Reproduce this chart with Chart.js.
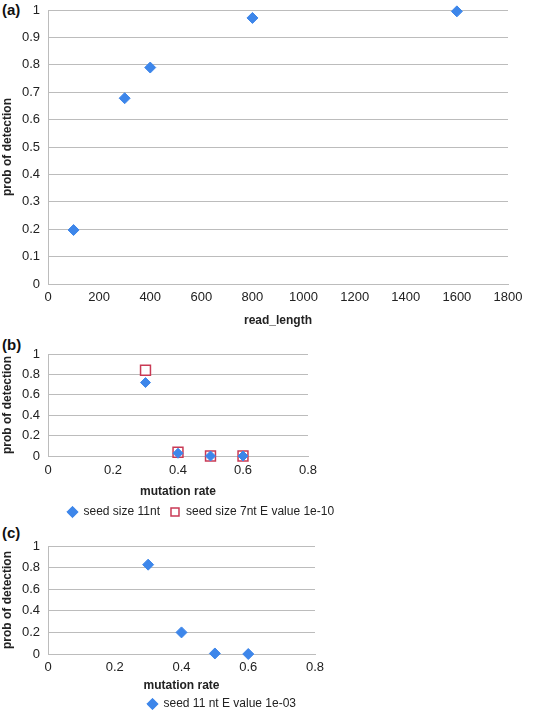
<!DOCTYPE html>
<html>
<head>
<meta charset="utf-8">
<script src="https://cdn.jsdelivr.net/npm/chart.js@4.4.1/dist/chart.umd.min.js"></script>
<style>
  body { margin: 0; background: #fff; overflow: hidden; width: 543px; height: 710px; position: relative; }
  canvas { position: absolute; left: 0; }
  .tag { position: absolute; left: 2px; font: bold 15px "Liberation Sans", Arial, sans-serif; color: #111; }
</style>
</head>
<body>
<div class="tag" style="top:1px">(a)</div>
<div class="tag" style="top:336px">(b)</div>
<div class="tag" style="top:524px">(c)</div>
<canvas id="chart-a" width="543" height="330" style="top:0px"></canvas>
<canvas id="chart-b" width="543" height="203" style="top:330px"></canvas>
<canvas id="chart-c" width="543" height="197" style="top:530px"></canvas>
<script>
// panel (a)
var readLength = [100, 300, 400, 800, 1600];
var probA = [0.197, 0.678, 0.79, 0.971, 0.995];

// panel (b)
var mutRateB = [0.3, 0.4, 0.5, 0.6];
var seed11B = [0.72, 0.027, 0, 0];
var seed7B = [0.84, 0.037, 0, 0];

// panel (c)
var mutRateC = [0.3, 0.4, 0.5, 0.6];
var seed11C = [0.827, 0.2, 0.005, 0];

var blue = '#3d86ea', red = '#c93a55', grid = '#bcbcbc';

Chart.defaults.font.family = '"Liberation Sans", Arial, sans-serif';
Chart.defaults.font.size = 12;
Chart.defaults.color = '#222';

function pts(xs, ys) {
    return xs.map(function (x, i) { return { x: x, y: ys[i] }; });
}

function plain(v) {
    return String(Math.round(v * 100) / 100);
}

// move the legend box to where the original figure has it
const legendPlace = {
    id: 'legendPlace',
    beforeDraw(chart, args, opts) {
        const lg = chart.legend;
        if (!lg || opts.left == null) return;
        const h = lg.bottom - lg.top;
        lg.left = opts.left;
        lg.right = chart.width;
        lg.top = opts.top;
        lg.bottom = opts.top + h;
    }
};

function diamonds(label, data, r) {
    return {
        label: label, data: data, showLine: false, clip: false,
        pointStyle: 'rectRot', pointRadius: r, pointHoverRadius: r,
        backgroundColor: blue, borderColor: blue, borderWidth: 1,
        pointBackgroundColor: blue, pointBorderColor: blue
    };
}

function squares(label, data, r) {
    return {
        label: label, data: data, showLine: false, clip: false,
        pointStyle: 'rect', pointRadius: r, pointHoverRadius: r,
        backgroundColor: '#fff', borderColor: red, borderWidth: 1.5,
        pointBackgroundColor: '#fff', pointBorderColor: red, pointBorderWidth: 1.5
    };
}

function makeOptions(p) {
    return {
        responsive: false,
        animation: false,
        layout: { padding: { top: p.top, right: p.right, left: 0, bottom: 0 } },
        plugins: {
            tooltip: { enabled: false },
            legend: {
                display: p.legend,
                position: 'bottom',
                align: 'start',
                labels: { usePointStyle: true, boxWidth: 10, boxHeight: 8, padding: 10, color: '#222', font: { size: 12 } }
            },
            legendPlace: p.legend ? { left: p.legendLeft, top: p.legendTop } : {}
        },
        scales: {
            x: {
                type: 'linear', min: 0, max: p.xMax,
                ticks: { stepSize: p.xStep, padding: p.xPad, color: '#222', font: { size: 13 }, callback: plain },
                grid: { display: false, drawTicks: false },
                border: { display: true, color: grid, width: 1 },
                title: { display: true, text: p.xTitle, font: { weight: 'bold', size: 12 }, color: '#222', padding: { top: 0, bottom: 2 } },
                afterFit: function (s) { s.height = p.xH; }
            },
            y: {
                type: 'linear', min: 0, max: 1,
                ticks: { stepSize: p.yStep, padding: 8, color: '#222', font: { size: 13 }, callback: plain },
                grid: { color: grid, lineWidth: 1, drawTicks: false },
                border: { display: true, color: grid, width: 1 },
                title: { display: true, text: 'prob of detection', font: { weight: 'bold', size: 12 }, color: '#222', padding: { top: 0, bottom: 0 } },
                afterFit: function (s) { s.width = 48; s.paddingTop = 0; s.paddingBottom = 0; }
            }
        }
    };
}

new Chart(document.getElementById('chart-a').getContext('2d'), {
    type: 'scatter',
    data: { datasets: [diamonds('prob', pts(readLength, probA), 5.5)] },
    options: makeOptions({ top: 10, right: 35, xMax: 1800, xStep: 200, xPad: 6, xH: 46, yStep: 0.1,
        xTitle: 'read_length', legend: false }),
    plugins: [legendPlace]
});

new Chart(document.getElementById('chart-b').getContext('2d'), {
    type: 'scatter',
    data: {
        datasets: [
            diamonds('seed size 11nt', pts(mutRateB, seed11B), 5),
            squares('seed size 7nt E value 1e-10', pts(mutRateB, seed7B), 7)
        ]
    },
    options: makeOptions({ top: 24, right: 235, xMax: 0.8, xStep: 0.2, xPad: 7, xH: 45, yStep: 0.2,
        xTitle: 'mutation rate', legend: true, legendLeft: 57.5, legendTop: 166 }),
    plugins: [legendPlace]
});

new Chart(document.getElementById('chart-c').getContext('2d'), {
    type: 'scatter',
    data: { datasets: [diamonds('seed 11 nt E value 1e-03', pts(mutRateC, seed11C), 5.5)] },
    options: makeOptions({ top: 16, right: 228, xMax: 0.8, xStep: 0.2, xPad: 6, xH: 41, yStep: 0.2,
        xTitle: 'mutation rate', legend: true, legendLeft: 137.5, legendTop: 158 }),
    plugins: [legendPlace]
});
</script>
</body>
</html>
